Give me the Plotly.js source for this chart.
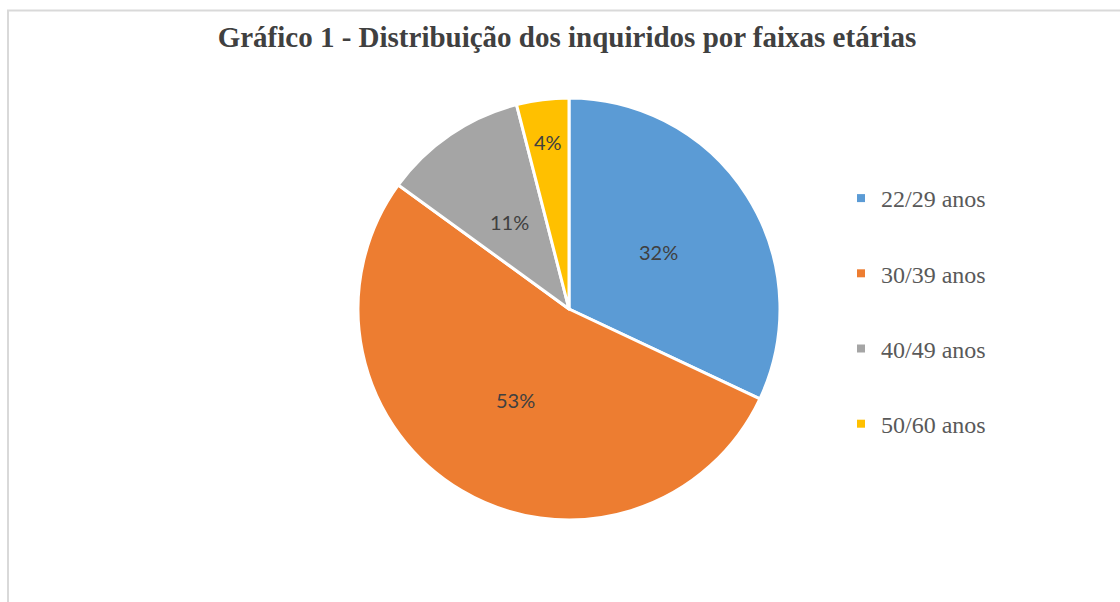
<!DOCTYPE html>
<html>
<head>
<meta charset="utf-8">
<script src="https://cdn.plot.ly/plotly-3.0.1.min.js"></script>
<style>
  html, body { margin: 0; padding: 0; background: #ffffff; }
  #chart { width: 1120px; height: 602px; }
</style>
</head>
<body>
<div id="chart"></div>
<script>
const categories = ["22/29 anos", "30/39 anos", "40/49 anos", "50/60 anos"];
const percentages = [32, 53, 11, 4];
const sliceColors = ["#5B9BD5", "#ED7D31", "#A5A5A5", "#FFC000"];
const chartTitle = "Gráfico 1 - Distribuição dos inquiridos por faixas etárias";

const W = 1120, H = 602;
const pieDomain = { x: [358/W, 780/W], y: [82/H, 504/H] };

const pieTrace = {
  type: "pie",
  labels: categories,
  values: percentages,
  sort: false,
  direction: "clockwise",
  rotation: 0,
  showlegend: false,
  marker: { colors: sliceColors, line: { color: "#ffffff", width: 3 } },
  textinfo: "none",
  hoverinfo: "label+percent",
  domain: pieDomain
};

const legendTraces = categories.map((c, i) => ({
  type: "scatter",
  mode: "markers",
  x: [null], y: [null],
  name: c,
  legendgroup: "g" + i,
  marker: { symbol: "square", size: 8, color: sliceColors[i] },
  showlegend: true,
  hoverinfo: "skip"
}));

// data labels placed along each slice's bisector (Excel "best fit" style)
const total = percentages.reduce((a, b) => a + b, 0);
const cxP = (pieDomain.x[0] + pieDomain.x[1]) / 2;
const cyP = (pieDomain.y[0] + pieDomain.y[1]) / 2;
const rPx = (pieDomain.x[1] - pieDomain.x[0]) * W / 2;
let cum = 0;
const labelAnnotations = percentages.map((v) => {
  const mid = (cum + v / 2) / total * 2 * Math.PI;
  const span = v / total * 2 * Math.PI;
  cum += v;
  const textW = 40;
  const f = (0.5 * rPx * span < textW) ? 0.8 : 0.5;
  return {
    xref: "paper", yref: "paper",
    x: cxP + f * rPx * Math.sin(mid) / W,
    y: cyP + f * rPx * Math.cos(mid) / H,
    xanchor: "center", yanchor: "middle",
    text: v + "%",
    showarrow: false,
    font: { family: "Lato, 'Open Sans', sans-serif", size: 20, color: "#404040" }
  };
});

const layout = {
  width: W, height: H,
  margin: { l: 0, r: 0, t: 0, b: 0 },
  paper_bgcolor: "#ffffff",
  plot_bgcolor: "#ffffff",
  title: {
    text: "<b>" + chartTitle + "</b>",
    font: { family: "'Liberation Serif', 'Times New Roman', serif", size: 29, color: "#404040" },
    x: 567/W, xanchor: "center",
    xref: "paper",
    y: 1 - 37/H, yanchor: "middle", yref: "container"
  },
  xaxis: { visible: false },
  yaxis: { visible: false },
  showlegend: true,
  legend: {
    x: 841/W, xanchor: "left",
    y: 1 - 311/H, yanchor: "middle",
    tracegroupgap: 41,
    font: { family: "'Liberation Serif', 'Times New Roman', serif", size: 24, color: "#595959" },
    bgcolor: "rgba(0,0,0,0)",
    itemclick: false, itemdoubleclick: false
  },
  annotations: labelAnnotations,
  shapes: [{
    type: "rect", xref: "paper", yref: "paper",
    x0: 8/W, x1: 1.02, y0: -0.02, y1: 1 - 10.5/H,
    line: { color: "#d9d9d9", width: 2 },
    fillcolor: "rgba(0,0,0,0)", layer: "below"
  }]
};

Plotly.newPlot("chart", [pieTrace].concat(legendTraces), layout, { displayModeBar: false, staticPlot: true });
</script>
</body>
</html>
